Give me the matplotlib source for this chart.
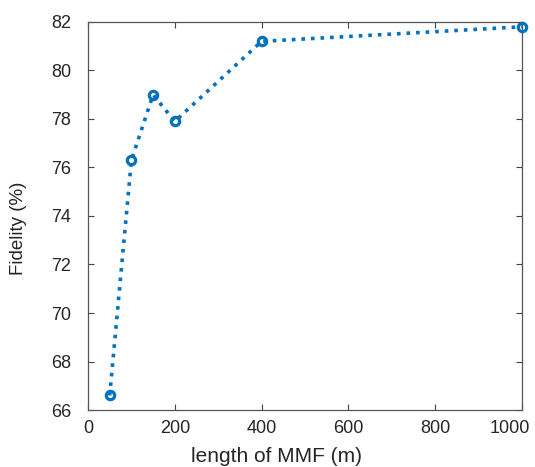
import matplotlib
matplotlib.use("Agg")
import matplotlib.pyplot as plt
import matplotlib.transforms as mtransforms

plt.rcParams['font.family'] = ['Liberation Sans', 'DejaVu Sans']

length_m = [50, 100, 150, 200, 400, 1000]
fidelity = [66.6, 76.3, 79.0, 77.9, 81.2, 81.8]
x_ticks = [0, 200, 400, 600, 800, 1000]
y_ticks = [66, 68, 70, 72, 74, 76, 78, 80, 82]

fig = plt.figure(figsize=(5.35, 4.67), dpi=100)
ax = fig.add_axes([0.1645, 0.122, 0.811, 0.831])
ax.plot(length_m, fidelity, linestyle=':', color='#0072BD', linewidth=2.6,
        marker='o', markersize=6, markerfacecolor='none', markeredgewidth=2.3,
        clip_on=False, zorder=3)
ax.set_xlim(0, 1000)
ax.set_ylim(66, 82)
ax.set_xticks(x_ticks)
ax.set_yticks(y_ticks)
ax.tick_params(direction='in', top=True, right=True, length=4, width=0.8,
               colors='#444444', labelcolor='#262626', labelsize=13)
ax.tick_params(axis='x', pad=7)
ax.tick_params(axis='y', pad=12)
for s in ax.spines.values():
    s.set_color('#555555')
    s.set_linewidth(0.9)

# shift last x tick label left so it fits inside the figure
last = ax.get_xticklabels()[-1]
last.set_transform(last.get_transform() + mtransforms.ScaledTranslation(-12/100, 0, fig.dpi_scale_trans))

ax.set_xlabel('length of MMF (m)', fontsize=15, color='#262626')
ax.xaxis.label.set_va('center')
ax.xaxis.set_label_coords(0.435, -0.121)
ax.set_ylabel('Fidelity (%)', fontsize=13.5, color='#262626')
ax.yaxis.label.set_va('center')
ax.yaxis.set_label_coords(-0.161, 0.469)
fig.savefig('out.png', dpi=100)
